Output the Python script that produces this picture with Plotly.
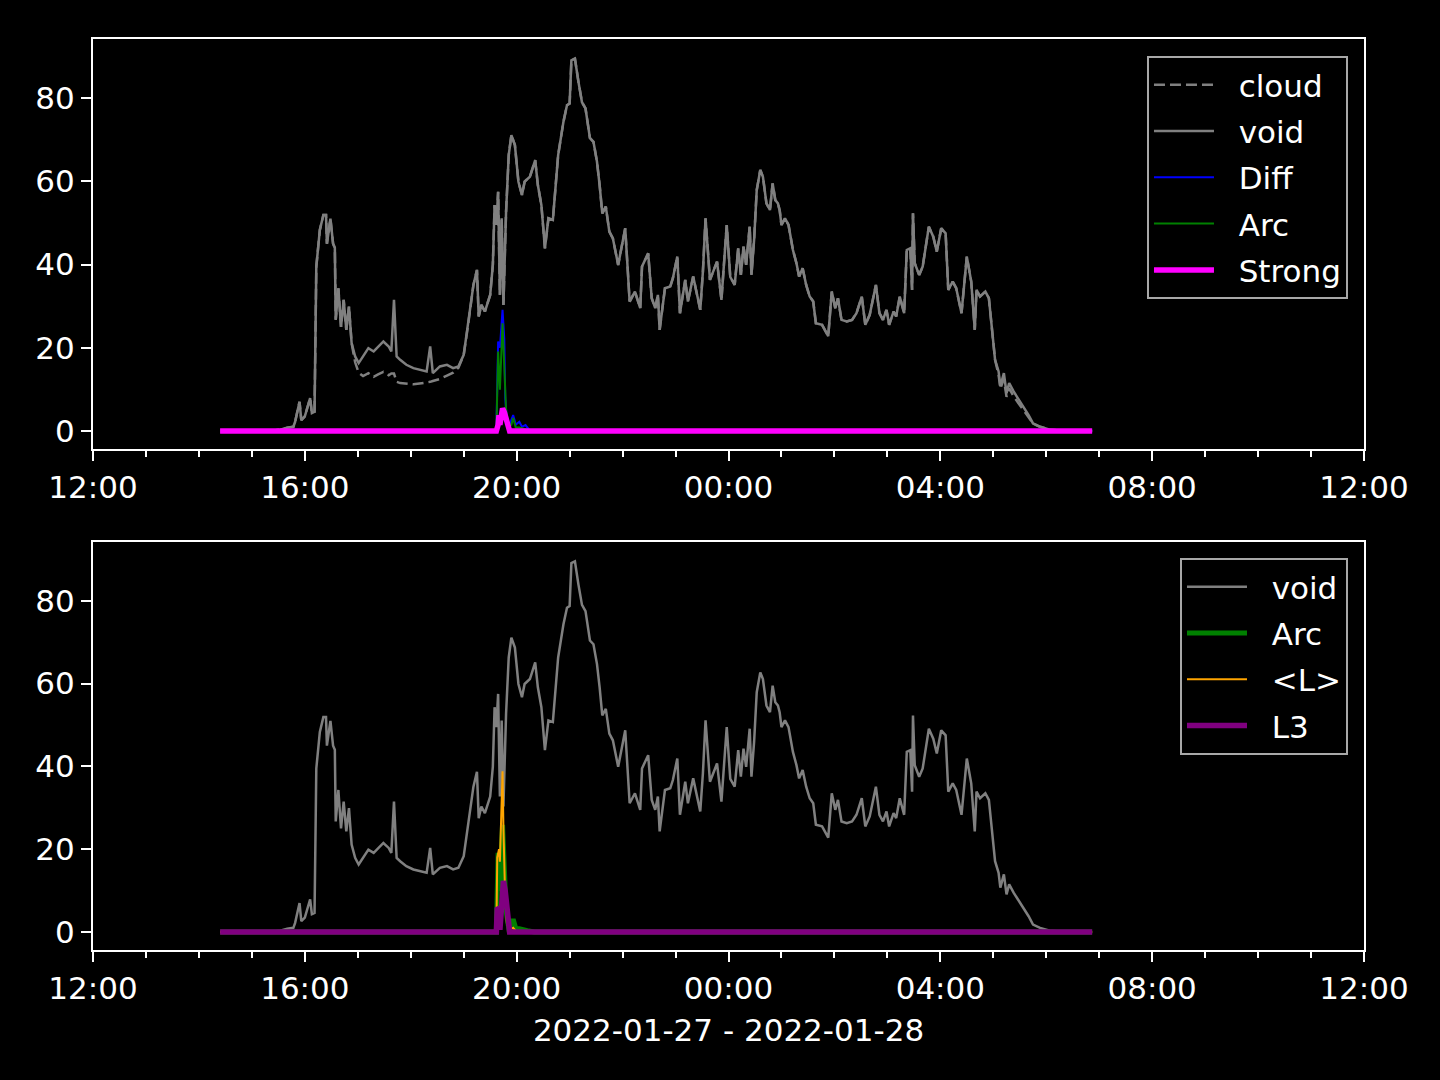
import pandas as pd
import plotly.graph_objects as go

# ---------------- data (minutes after 2022-01-27 12:00) ----------------
T0 = pd.Timestamp("2022-01-27 12:00")

void_min = [
    144, 200, 212, 220, 227, 229, 234, 236, 240, 246,
    248, 251, 253, 257, 261, 264, 265, 269, 272, 274,
    275, 278, 281, 284, 287, 290, 293, 297, 301, 306,
    312, 318, 323, 329, 335, 338, 341, 344, 348, 355,
    363, 370, 378, 382, 385, 393, 401, 408, 414, 420,
    425, 431, 435, 437, 440, 444, 450, 453, 455, 457,
    459, 461, 463, 465, 468, 471, 474, 478, 482, 486,
    489, 495, 501, 504, 508, 512, 516, 521, 527, 533,
    537, 540, 542, 546, 550, 554, 558, 563, 567, 571,
    574, 577, 581, 585, 589, 595, 603, 608, 614, 620,
    622, 629, 633, 637, 640, 642, 648, 654, 657, 662,
    665, 671, 674, 680, 688, 691, 694, 699, 707, 712,
    718, 722, 727, 731, 734, 737, 740, 744, 746, 749,
    752, 756, 759, 763, 767, 770, 773, 776, 778, 780,
    784, 788, 793, 797, 800, 804, 808, 812, 816, 819,
    826, 833, 837, 841, 844, 848, 854, 860, 865, 871,
    875, 880, 887, 891, 895, 899, 902, 907, 910, 914,
    919, 922, 926, 928, 929, 931, 936, 940, 947, 952,
    956, 961, 966, 969, 974, 978, 984, 990, 995, 999,
    1001, 1005, 1011, 1015, 1022, 1026, 1028, 1032, 1035, 1038,
    1043, 1048, 1054, 1060, 1065, 1073, 1084, 1096, 1132,
]
void_val = [
    0, 0, 0.3, 0.8, 1.0, 2.2, 7.0, 2.6, 3.5, 7.9,
    4.3, 4.6, 39.5, 48.3, 51.9, 51.9, 45.0, 51.0, 45.0, 44.0,
    26.7, 34.3, 25.0, 31.5, 24.3, 29.9, 21.1, 17.9, 16.3, 17.9,
    19.9, 19.1, 20.3, 21.5, 20.3, 19.1, 31.5, 17.9, 17.1, 15.9,
    15.1, 14.7, 14.3, 20.3, 13.9, 15.5, 15.9, 15.1, 15.5, 18.3,
    25.5, 35.1, 38.7, 27.5, 30.3, 28.7, 32.7, 39.9, 54.3, 49.5,
    57.5, 32.7, 51.1, 30.3, 52.7, 66.3, 71.1, 68.7, 59.9, 56.7,
    59.9, 61.1, 65.1, 59.1, 54.3, 43.9, 51.1, 50.7, 66.3, 74.3,
    78.3, 78.7, 89.1, 89.5, 83.9, 79.0, 77.5, 70.4, 69.5, 64.7,
    59.1, 52.3, 53.9, 47.9, 46.3, 39.9, 48.7, 31.1, 33.5, 29.5,
    39.5, 42.7, 31.9, 29.5, 32.7, 24.3, 34.3, 34.7, 36.7, 41.9,
    28.3, 36.3, 31.1, 37.1, 29.1, 38.3, 51.1, 36.3, 40.7, 31.5,
    49.5, 37.0, 35.1, 43.9, 37.5, 44.3, 39.9, 49.1, 37.5, 45.9,
    57.9, 62.7, 61.1, 54.7, 53.1, 59.5, 55.5, 54.7, 53.0, 49.5,
    51.1, 49.5, 43.5, 40.3, 37.1, 39.1, 35.1, 32.3, 31.1, 25.9,
    25.5, 22.8, 33.5, 29.5, 31.9, 26.7, 26.3, 26.7, 28.3, 32.3,
    25.5, 27.9, 35.1, 28.3, 26.7, 29.1, 25.5, 28.7, 27.5, 32.3,
    28.3, 43.5, 43.9, 33.9, 52.3, 40.3, 37.5, 39.5, 49.1, 46.7,
    43.1, 48.7, 47.5, 33.9, 35.9, 34.3, 28.3, 41.9, 35.9, 24.3,
    33.9, 32.3, 33.5, 31.9, 17.1, 14.3, 10.7, 13.9, 9.1, 11.5,
    9.5, 7.9, 5.9, 3.8, 1.8, 1.0, 0.3, 0.1, 0,
]
cloud_val = [
    0, 0, 0.3, 0.8, 1.0, 2.2, 7.0, 2.6, 3.5, 7.9,
    4.3, 4.6, 39.5, 48.3, 51.9, 51.9, 45.0, 51.0, 45.0, 44.0,
    26.7, 34.3, 25.0, 31.5, 24.3, 29.9, 21.1, 16.5, 14.0, 13.2,
    13.9, 13.0, 13.6, 14.2, 13.4, 13.8, 13.8, 11.8, 11.5, 11.3,
    11.2, 11.4, 11.6, 11.8, 12.0, 12.5, 13.3, 14.0, 15.2, 18.3,
    25.5, 35.1, 38.7, 27.5, 30.3, 28.7, 32.7, 39.9, 54.3, 49.5,
    57.5, 32.7, 51.1, 30.3, 52.7, 66.3, 71.1, 68.7, 59.9, 56.7,
    59.9, 61.1, 65.1, 59.1, 54.3, 43.9, 51.1, 50.7, 66.3, 74.3,
    78.3, 78.7, 89.1, 89.5, 83.9, 79.0, 77.5, 70.4, 69.5, 64.7,
    59.1, 52.3, 53.9, 47.9, 46.3, 39.9, 48.7, 31.1, 33.5, 29.5,
    39.5, 42.7, 31.9, 29.5, 32.7, 24.3, 34.3, 34.7, 36.7, 41.9,
    28.3, 36.3, 31.1, 37.1, 29.1, 38.3, 51.1, 36.3, 40.7, 31.5,
    49.5, 37.0, 35.1, 43.9, 37.5, 44.3, 39.9, 49.1, 37.5, 45.9,
    57.9, 62.7, 61.1, 54.7, 53.1, 59.5, 55.5, 54.7, 53.0, 49.5,
    51.1, 49.5, 43.5, 40.3, 37.1, 39.1, 35.1, 32.3, 31.1, 25.9,
    25.5, 22.8, 33.5, 29.5, 31.9, 26.7, 26.3, 26.7, 28.3, 32.3,
    25.5, 27.9, 35.1, 28.3, 26.7, 29.1, 25.5, 28.7, 27.5, 32.3,
    28.3, 43.5, 43.9, 33.9, 52.3, 40.3, 37.5, 39.5, 49.1, 46.7,
    43.1, 48.7, 47.5, 33.9, 35.9, 34.3, 28.3, 41.9, 35.9, 24.3,
    33.9, 32.3, 33.5, 31.9, 17.1, 13.5, 10.2, 12.5, 8.2, 10.3,
    8.3, 6.8, 5.0, 3.3, 1.8, 1.0, 0.3, 0.1, 0,
]

diff_min = [144, 457, 459, 461, 464, 466, 467, 469, 472, 476, 479, 483, 486, 490, 494, 500, 1132]
diff_val = [0, 0, 21.5, 20.0, 29.1, 22.0, 8.0, 2.5, 1.5, 3.8, 1.5, 2.2, 1.0, 1.4, 0.3, 0, 0]

arc_min = [144, 457, 459, 461, 464, 466, 468, 471, 474, 476, 479, 483, 487, 492, 500, 1132]
arc_val = [0, 0, 19.1, 9.9, 25.9, 17.0, 5.0, 1.0, 1.5, 3.1, 0.8, 0.8, 0.5, 0.3, 0, 0]

strong_min = [144, 457, 459, 460, 461, 464, 466, 468, 470, 472, 1132]
strong_val = [0, 0, 1.5, 3.8, 1.5, 5.4, 4.5, 2.6, 0.5, 0, 0]

lmean_min = [144, 457, 458, 460, 461, 463, 464, 465, 467, 469, 472, 476, 480, 1132]
lmean_val = [0, 0, 18.0, 20.0, 17.0, 30.0, 38.8, 25.0, 8.0, 2.0, 0.5, 1.0, 0, 0]

l3_min = [144, 457, 458, 460, 461, 463, 465, 467, 468, 470, 472, 1132]
l3_val = [0, 0, 5.9, 5.5, 0.5, 6.0, 12.3, 10.0, 7.9, 1.8, 0, 0]

x_title = "2022-01-27 - 2022-01-28"


def times(mins):
    return [T0 + pd.Timedelta(minutes=m) for m in mins]


def lab(s):
    # small gap between legend line sample and label text
    return "\u00a0\u00a0" + s


GRAY = "#808080"
FONT = "DejaVu Sans"
FS = 31

fig = go.Figure()

# top panel
fig.add_trace(go.Scatter(x=times(void_min), y=cloud_val, name=lab("cloud"), mode="lines",
                         line=dict(color=GRAY, width=2.5, dash="11px,5px"),
                         xaxis="x", yaxis="y", legend="legend", legendgroup="a1"))
fig.add_trace(go.Scatter(x=times(void_min), y=void_val, name=lab("void"), mode="lines",
                         line=dict(color=GRAY, width=2.5),
                         xaxis="x", yaxis="y", legend="legend", legendgroup="a2"))
fig.add_trace(go.Scatter(x=times(diff_min), y=diff_val, name=lab("Diff"), mode="lines",
                         line=dict(color="#0000ff", width=2),
                         xaxis="x", yaxis="y", legend="legend", legendgroup="a3"))
fig.add_trace(go.Scatter(x=times(arc_min), y=arc_val, name=lab("Arc"), mode="lines",
                         line=dict(color="#008000", width=2),
                         xaxis="x", yaxis="y", legend="legend", legendgroup="a4"))
fig.add_trace(go.Scatter(x=times(strong_min), y=strong_val, name=lab("Strong"), mode="lines",
                         line=dict(color="#ff00ff", width=5.5),
                         xaxis="x", yaxis="y", legend="legend", legendgroup="a5"))

# bottom panel
fig.add_trace(go.Scatter(x=times(void_min), y=void_val, name=lab("void"), mode="lines",
                         line=dict(color=GRAY, width=2.5),
                         xaxis="x2", yaxis="y2", legend="legend2", legendgroup="b1"))
fig.add_trace(go.Scatter(x=times(arc_min), y=arc_val, name=lab("Arc"), mode="lines",
                         line=dict(color="#008000", width=5),
                         xaxis="x2", yaxis="y2", legend="legend2", legendgroup="b2"))
fig.add_trace(go.Scatter(x=times(lmean_min), y=lmean_val, name=lab("<L>"), mode="lines",
                         line=dict(color="#ffa500", width=2),
                         xaxis="x2", yaxis="y2", legend="legend2", legendgroup="b3"))
fig.add_trace(go.Scatter(x=times(l3_min), y=l3_val, name=lab("L3"), mode="lines",
                         line=dict(color="#800080", width=5.5),
                         xaxis="x2", yaxis="y2", legend="legend2", legendgroup="b4"))

axis_common = dict(
    showline=True, linecolor="white", linewidth=2, mirror=True,
    ticks="outside", tickcolor="white", tickwidth=2, ticklen=10,
    tickfont=dict(color="white", size=FS, family=FONT),
    showgrid=False, zeroline=False,
)
xr = [T0, T0 + pd.Timedelta(hours=24)]
xaxis_common = dict(
    axis_common, type="date", range=xr, tickformat="%H:%M",
    tick0=T0, dtick=4 * 3600 * 1000,
    minor=dict(dtick=3600 * 1000, ticks="outside", ticklen=6,
               tickcolor="white", tickwidth=1.5, showgrid=False),
)
yaxis_common = dict(axis_common, range=[-4.35, 94.2], tickvals=[0, 20, 40, 60, 80])

legend_common = dict(
    xanchor="right", yanchor="top", bgcolor="rgba(0,0,0,0.8)",
    bordercolor="#a8a8a8", borderwidth=2, traceorder="grouped", tracegroupgap=3,
    itemwidth=60,
    font=dict(size=FS, color="white", family=FONT),
)

fig.update_layout(
    width=1440, height=1080,
    paper_bgcolor="black", plot_bgcolor="black",
    margin=dict(l=93, r=76, t=39, b=130),
    font=dict(family=FONT, color="white", size=FS),
    showlegend=True,
    xaxis=dict(xaxis_common, domain=[0, 1], anchor="y"),
    yaxis=dict(yaxis_common, domain=[0.5499, 1.0], anchor="x"),
    xaxis2=dict(xaxis_common, domain=[0, 1], anchor="y2",
                title=dict(text=x_title, font=dict(size=FS, color="white", family=FONT), standoff=14)),
    yaxis2=dict(yaxis_common, domain=[0.0, 0.4479], anchor="x2"),
    legend=dict(legend_common, x=0.9874, y=0.9813),
    legend2=dict(legend_common, x=0.9874, y=0.4303),
)

fig.write_html(
    "out.html",
    config={"displayModeBar": False},
    post_script="document.body.style.margin='0';document.body.style.background='black';",
)
